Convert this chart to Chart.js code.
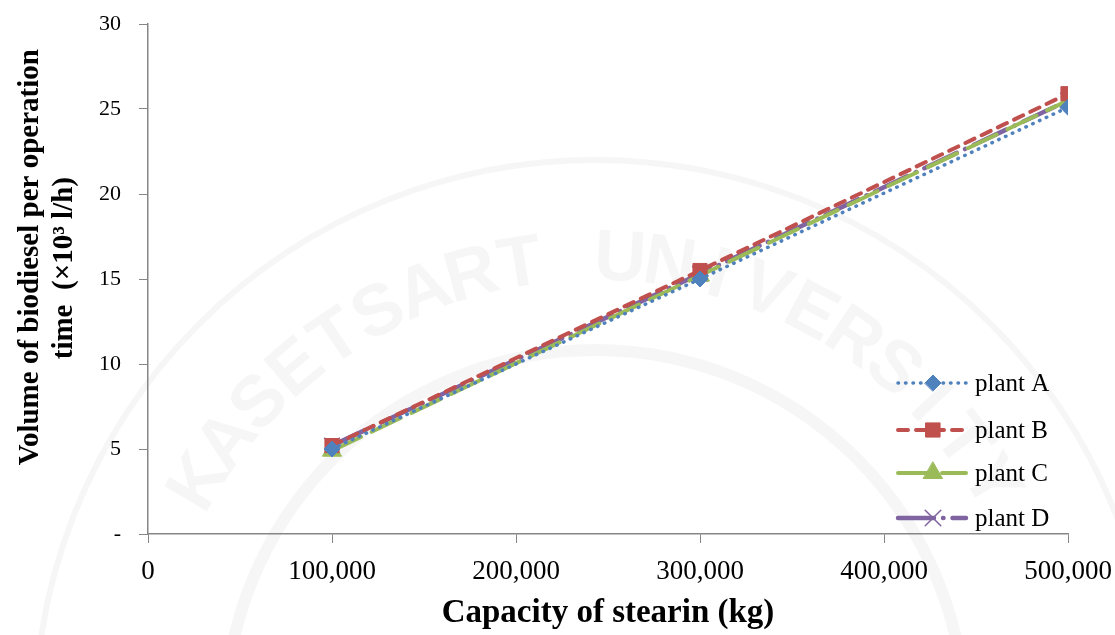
<!DOCTYPE html>
<html>
<head>
<meta charset="utf-8">
<script src="https://cdn.jsdelivr.net/npm/chart.js@4.4.1/dist/chart.umd.min.js"></script>
<style>
    html, body { margin: 0; padding: 0; background: #fff; }
    #wrap { width: 1115px; height: 635px; }
</style>
</head>
<body>
<div id="wrap"><canvas id="biodiesel-chart"></canvas></div>
<script>
const capacities = [100000, 300000, 500000];
const plantA = [5.0, 15.0, 25.1];
const plantB = [5.2, 15.5, 25.9];
const plantC = [4.9, 15.2, 25.5];
const plantD = [5.2, 15.3, 25.5];
const xTicks = [0, 100000, 200000, 300000, 400000, 500000];
const yTicks = [0, 5, 10, 15, 20, 25, 30];

const serif = '"Liberation Serif", "Times New Roman", serif';

function points(values) {
    return capacities.map((x, i) => ({ x: x, y: values[i] }));
}

// faint university seal printed behind the chart
const sealBackground = {
    id: 'sealBackground',
    beforeDraw(chart) {
        const ctx = chart.ctx;
        const cx = 595, cy = 720;
        ctx.save();
        ctx.strokeStyle = 'rgba(110, 130, 110, 0.07)';
        ctx.lineWidth = 6;
        ctx.beginPath();
        ctx.arc(cx, cy, 560, 0, Math.PI * 2);
        ctx.stroke();
        ctx.lineWidth = 12;
        ctx.beginPath();
        ctx.arc(cx, cy, 370, 0, Math.PI * 2);
        ctx.stroke();
        const word = 'KASETSART UNIVERSITY';
        const span = 118 * Math.PI / 180;
        ctx.fillStyle = 'rgba(110, 130, 110, 0.07)';
        ctx.font = 'bold 72px "Liberation Sans", sans-serif';
        ctx.textAlign = 'center';
        ctx.textBaseline = 'middle';
        for (let i = 0; i < word.length; i++) {
            const a = -span / 2 + span * i / (word.length - 1);
            ctx.save();
            ctx.translate(cx + 460 * Math.sin(a), cy - 460 * Math.cos(a));
            ctx.rotate(a);
            ctx.fillText(word[i], 0, 0);
            ctx.restore();
        }
        ctx.restore();
    }
};

// legend drawn inside the plot, each entry a short styled line with its marker
const insideLegend = {
    id: 'insideLegend',
    afterDatasetsDraw(chart) {
        const ctx = chart.ctx;
        const rows = [383, 430, 473, 518];
        chart.data.datasets.forEach((ds, i) => {
            const y = rows[i];
            ctx.save();
            ctx.strokeStyle = ds.borderColor;
            ctx.lineWidth = ds.borderWidth;
            ctx.lineCap = ds.borderCapStyle || 'butt';
            ctx.setLineDash(ds.borderDash || []);
            ctx.beginPath();
            ctx.moveTo(898, y);
            ctx.lineTo(966, y);
            ctx.stroke();
            ctx.setLineDash([]);
            ctx.fillStyle = ds.pointBackgroundColor;
            ctx.strokeStyle = ds.pointBorderColor;
            ctx.lineWidth = ds.pointBorderWidth;
            Chart.helpers.drawPoint(ctx, {
                pointStyle: ds.pointStyle,
                radius: ds.pointRadius,
                rotation: 0,
                borderWidth: ds.pointBorderWidth
            }, 933, y);
            ctx.fillStyle = '#000';
            ctx.font = '25px ' + serif;
            ctx.textBaseline = 'middle';
            ctx.fillText(ds.label, 975, y + 1);
            ctx.restore();
        });
    }
};

const data = {
    datasets: [{
        label: 'plant A',
        data: points(plantA),
        borderColor: '#4F81BD',
        pointBackgroundColor: '#4F81BD',
        pointBorderColor: '#4F81BD',
        borderWidth: 3.5,
        borderDash: [0.5, 7],
        borderCapStyle: 'round',
        pointStyle: 'rectRot',
        pointRadius: 8,
        pointBorderWidth: 1
    }, {
        label: 'plant B',
        data: points(plantB),
        borderColor: '#C0504D',
        pointBackgroundColor: '#C0504D',
        pointBorderColor: '#C0504D',
        borderWidth: 4,
        borderDash: [10, 8],
        borderCapStyle: 'round',
        pointStyle: 'rect',
        pointRadius: 10,
        pointBorderWidth: 1
    }, {
        label: 'plant C',
        data: points(plantC),
        borderColor: '#9BBB59',
        pointBackgroundColor: '#9BBB59',
        pointBorderColor: '#9BBB59',
        borderWidth: 4,
        borderDash: [32, 12],
        borderCapStyle: 'round',
        pointStyle: 'triangle',
        pointRadius: 11,
        pointBorderWidth: 1
    }, {
        label: 'plant D',
        data: points(plantD),
        borderColor: '#8064A2',
        pointBackgroundColor: '#8064A2',
        pointBorderColor: '#8064A2',
        borderWidth: 4.5,
        borderDash: [36, 9, 0.5, 9],
        borderCapStyle: 'round',
        pointStyle: 'crossRot',
        pointRadius: 11,
        pointBorderWidth: 1.5
    }]
};

const options = {
    responsive: false,
    animation: false,
    layout: { padding: { top: 24, right: 47, left: 0, bottom: 0 } },
    plugins: {
        legend: { display: false },
        tooltip: { enabled: false }
    },
    scales: {
        x: {
            type: 'linear',
            min: 0,
            max: 500000,
            afterBuildTicks: (scale) => { scale.ticks = xTicks.map(v => ({ value: v })); },
            afterFit: (scale) => {
                scale.height = 101;
                scale.paddingLeft = 0;
                scale.paddingRight = 0;
            },
            grid: { drawOnChartArea: false, tickLength: 9, color: '#868686' },
            border: { color: '#868686', width: 1.5 },
            ticks: {
                color: '#000',
                padding: 13,
                maxRotation: 0,
                font: { family: serif, size: 27 },
                callback: (v) => v.toLocaleString('en-US')
            },
            title: {
                display: true,
                text: 'Capacity of stearin (kg)',
                color: '#000',
                padding: { top: 0, bottom: 2 },
                font: { family: serif, size: 33, weight: 'bold' }
            }
        },
        y: {
            min: 0,
            max: 30,
            afterBuildTicks: (scale) => { scale.ticks = yTicks.map(v => ({ value: v })); },
            afterFit: (scale) => {
                scale.width = 148;
                scale.paddingTop = 0;
                scale.paddingBottom = 0;
            },
            grid: { drawOnChartArea: false, tickLength: 9, color: '#868686' },
            border: { color: '#868686', width: 1.5 },
            ticks: {
                color: '#000',
                padding: 18,
                font: { family: serif, size: 22 },
                callback: (v) => v === 0 ? '-' : v
            },
            title: {
                display: true,
                // leading spaces lift the rotated lines a little above the axis middle
                text: ['      Volume of biodiesel per operation', '   time  (\u00d710\u00b3 l/h)'],
                color: '#000',
                padding: { top: 14, bottom: 0 },
                font: { family: serif, size: 29, weight: 'bold', lineHeight: 1.15 }
            }
        }
    }
};

const canvas = document.querySelector('#biodiesel-chart');
canvas.width = 1115;
canvas.height = 635;

const biodieselChart = new Chart(canvas, {
    type: 'line',
    data,
    options,
    plugins: [sealBackground, insideLegend]
});
</script>
</body>
</html>
